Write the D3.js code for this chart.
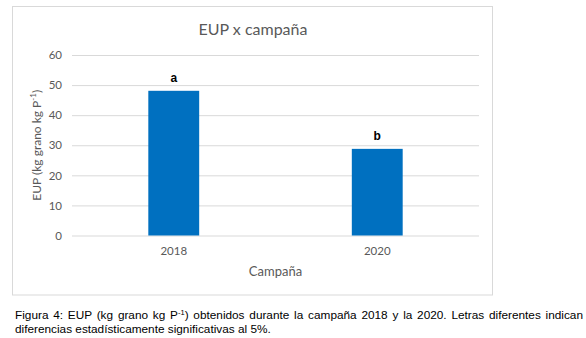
<!DOCTYPE html>
<html><head><meta charset="utf-8">
<script src="https://cdn.jsdelivr.net/npm/d3@7"></script>
<style>
body{margin:0;background:#fff;}
svg{display:block;}
</style></head>
<body>
<svg id="chart" width="586" height="338"></svg>
<script>
const categories = ["2018", "2020"];
const values = [48.1, 28.8];
const letters = ["a", "b"];
const yTicks = [0, 10, 20, 30, 40, 50, 60];
const title = "EUP x campaña";
const xTitle = "Campaña";
const caption1a = "Figura 4: EUP (kg grano kg P";
const caption1b = ") obtenidos durante la campaña 2018 y la 2020. Letras diferentes indican";
const caption2 = "diferencias estadísticamente significativas al 5%.";

const svg = d3.select("#chart");
const chartFont = "Lato, 'Open Sans', sans-serif";
const textCol = "#595959";

// chart frame
svg.append("rect").attr("x", 12.5).attr("y", 6.5).attr("width", 480).attr("height", 288.5)
  .attr("fill", "#fff").attr("stroke", "#d9d9d9").attr("stroke-width", 1);

const plot = {left: 72, right: 479, top: 55, bottom: 235.5};
const y = d3.scaleLinear().domain([0, 60]).range([plot.bottom, plot.top]);
const x = d3.scaleBand().domain(categories).range([plot.left, plot.right])
  .paddingInner(0.75).paddingOuter(0.375);

// y axis + gridlines
const yAxis = svg.append("g").attr("transform", `translate(${plot.left},0)`)
  .call(d3.axisLeft(y).tickValues(yTicks).tickSize(-(plot.right - plot.left)).tickPadding(10));
yAxis.select(".domain").remove();
yAxis.selectAll(".tick line").attr("stroke", "#d9d9d9").attr("stroke-width", 1);
yAxis.selectAll(".tick text").attr("fill", textCol).style("font-family", chartFont).style("font-size", "11.5px");

// bars
svg.append("g").selectAll("rect").data(categories).join("rect")
  .attr("x", d => x(d)).attr("width", x.bandwidth())
  .attr("y", (d, i) => y(values[i])).attr("height", (d, i) => plot.bottom - y(values[i]))
  .attr("fill", "#0070C0");

// significance letters
svg.append("g").selectAll("text").data(categories).join("text")
  .attr("x", d => x(d) + x.bandwidth() / 2)
  .attr("y", (d, i) => y(values[i]) - 9)
  .attr("text-anchor", "middle")
  .style("font-family", "'Liberation Sans', Arial, sans-serif").style("font-size", "12px").style("font-weight", "bold")
  .attr("fill", "#000")
  .text((d, i) => letters[i]);

// x axis
const xAxis = svg.append("g").attr("transform", `translate(0,${plot.bottom})`)
  .call(d3.axisBottom(x).tickSize(0).tickPadding(11));
xAxis.select(".domain").remove();
xAxis.selectAll(".tick text").attr("fill", textCol).style("font-family", chartFont).style("font-size", "11.5px");

// title
svg.append("text").attr("x", 253).attr("y", 35).attr("text-anchor", "middle")
  .attr("fill", textCol).style("font-family", chartFont).style("font-size", "16px").text(title);

// x title
svg.append("text").attr("x", (plot.left + plot.right) / 2).attr("y", 276).attr("text-anchor", "middle")
  .attr("fill", textCol).style("font-family", chartFont).style("font-size", "13px").text(xTitle);

// y title
const yt = svg.append("text").attr("transform", `translate(41,${(plot.top + plot.bottom) / 2}) rotate(-90)`)
  .attr("text-anchor", "middle").attr("fill", textCol)
  .style("font-family", chartFont).style("font-size", "12px");
yt.append("tspan").text("EUP (kg grano kg P");
yt.append("tspan").attr("baseline-shift", "super").style("font-size", "8px").text("-1");
yt.append("tspan").text(")");

// caption (first line justified)
const capFont = "'Liberation Sans', Arial, sans-serif";
const capX = 15, capRight = 583;
const c1 = svg.append("text").attr("x", capX).attr("y", 319).attr("fill", "#000")
  .style("font-family", capFont).style("font-size", "11.8px");
c1.append("tspan").text(caption1a);
c1.append("tspan").attr("baseline-shift", "super").style("font-size", "7.5px").text("-1");
c1.append("tspan").text(caption1b);
const natural = c1.node().getComputedTextLength();
const spaces = (caption1a + caption1b).split(" ").length - 1;
c1.style("word-spacing", ((capRight - capX - natural) / spaces) + "px");
svg.append("text").attr("x", capX).attr("y", 333).attr("fill", "#000")
  .style("font-family", capFont).style("font-size", "11.8px").text(caption2);
</script>
</body></html>
